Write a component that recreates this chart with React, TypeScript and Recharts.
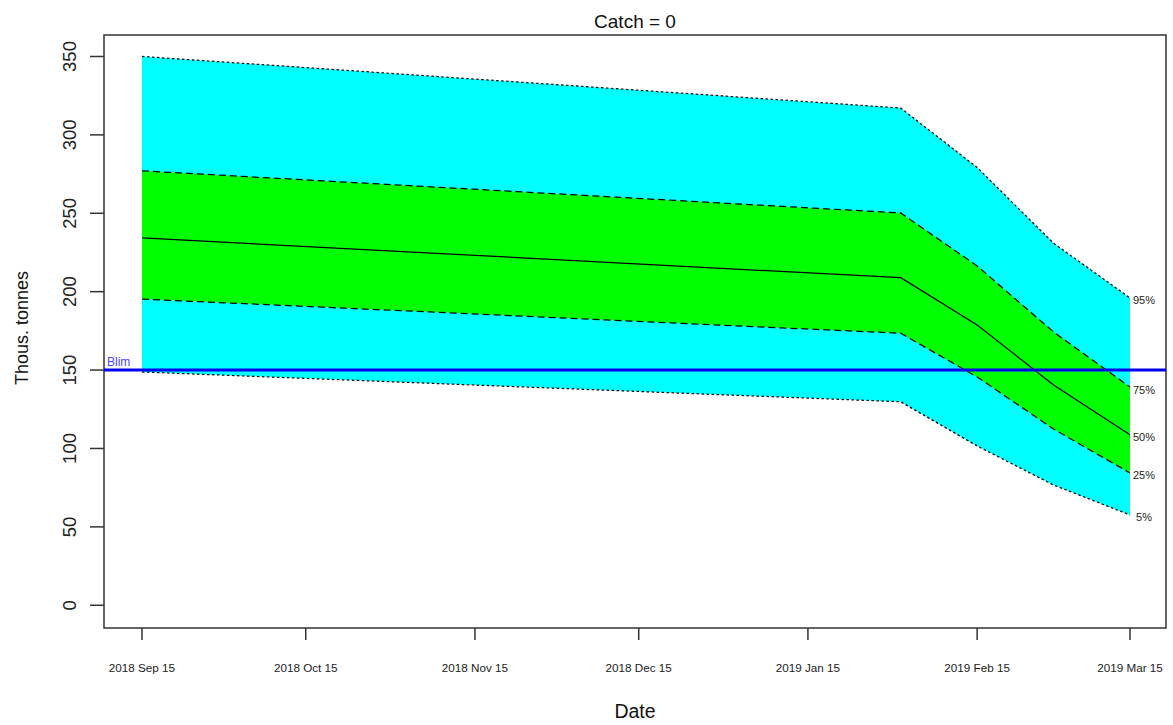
import React from "react";
import {
  ComposedChart,
  Area,
  Line,
  XAxis,
  YAxis,
  ReferenceLine,
  ReferenceArea,
  LabelList,
} from "recharts";

// Days since 2018 Sep 15 for each projection step
const dayOffsets = [0, 139, 153, 167, 181];

// Projected stock quantiles (thousand tonnes)
const q05 = [148.8, 129.8, 101.6, 76.7, 57.6];
const q25 = [195.3, 173.5, 145.6, 112.4, 84.4];
const q50 = [234.3, 208.9, 178.8, 140.5, 108.7];
const q75 = [277.1, 250.2, 216.4, 174.3, 139.2];
const q95 = [350.0, 317.1, 279.2, 230.9, 196.0];

// Date axis ticks
const tickDays = [0, 30, 61, 91, 122, 153, 181];
const tickLabels = [
  "2018 Sep 15",
  "2018 Oct 15",
  "2018 Nov 15",
  "2018 Dec 15",
  "2019 Jan 15",
  "2019 Feb 15",
  "2019 Mar 15",
];
const yTicks = [0, 50, 100, 150, 200, 250, 300, 350];

const blim = 150;
const title = "Catch = 0";

const rows = dayOffsets.map((day, i) => ({
  day,
  q05: q05[i],
  q25: q25[i],
  q50: q50[i],
  q75: q75[i],
  q95: q95[i],
}));

const FONT = "'Liberation Sans', Arial, sans-serif";
const INK = "#333";
const LINE_W = 1.25;
const lastIndex = rows.length - 1;

const XTick = (props: any) => {
  const { x, payload } = props;
  const idx = tickDays.indexOf(payload.value);
  return (
    <text
      x={x}
      y={667}
      textAnchor="middle"
      dominantBaseline="central"
      fontFamily={FONT}
      fontSize={11.7}
      fill="#222"
    >
      {idx >= 0 ? tickLabels[idx] : ""}
    </text>
  );
};

const YTick = (props: any) => {
  const { y, payload } = props;
  const cx = 69.5;
  return (
    <text
      x={cx}
      y={y}
      transform={`rotate(-90 ${cx} ${y})`}
      textAnchor="middle"
      dominantBaseline="central"
      fontFamily={FONT}
      fontSize={18.5}
      fill="#222"
    >
      {payload.value}
    </text>
  );
};

const endLabel = (text: string) => (props: any) => {
  const { x, y, index } = props;
  if (index !== lastIndex) return null;
  return (
    <text
      x={x + 14}
      y={y + 2.5}
      textAnchor="middle"
      dominantBaseline="central"
      fontFamily={FONT}
      fontSize={11}
      fill="#222"
    >
      {text}
    </text>
  );
};

export default function App() {
  return (
    <div
      style={{
        position: "absolute",
        left: 0,
        top: 0,
        width: 1173,
        height: 725,
        overflow: "hidden",
        background: "#fff",
      }}
    >
      <ComposedChart
        width={1173}
        height={725}
        data={rows}
        margin={{ top: 35, right: 7, bottom: 0, left: 0 }}
      >
        <XAxis
          type="number"
          dataKey="day"
          domain={[-6.96, 187.6]}
          allowDataOverflow
          ticks={tickDays}
          interval={0}
          height={97}
          axisLine={false}
          tickSize={12}
          tickLine={{ stroke: INK, strokeWidth: 1.5 }}
          tick={<XTick />}
          label={{
            content: () => (
              <text
                x={635}
                y={711}
                textAnchor="middle"
                dominantBaseline="central"
                fontFamily={FONT}
                fontSize={19.5}
                fill="#111"
              >
                Date
              </text>
            ),
          }}
        />
        <YAxis
          type="number"
          domain={[-14.5, 363.7]}
          allowDataOverflow
          ticks={yTicks}
          interval={0}
          width={104}
          axisLine={false}
          tickSize={14}
          tickLine={{ stroke: INK, strokeWidth: 1.5 }}
          tick={<YTick />}
          label={{
            content: () => (
              <text
                x={22}
                y={328}
                transform="rotate(-90 22 328)"
                textAnchor="middle"
                dominantBaseline="central"
                fontFamily={FONT}
                fontSize={18}
                fill="#111"
              >
                Thous. tonnes
              </text>
            ),
          }}
        />

        <Area
          type="linear"
          dataKey={(d: any) => [d.q05, d.q95]}
          fill="#00ffff"
          fillOpacity={1}
          stroke="none"
          isAnimationActive={false}
        />
        <Area
          type="linear"
          dataKey={(d: any) => [d.q25, d.q75]}
          fill="#00ff00"
          fillOpacity={1}
          stroke="none"
          isAnimationActive={false}
        />

        <Line
          type="linear"
          dataKey="q95"
          stroke="#000"
          strokeWidth={LINE_W}
          strokeDasharray="2.5 2.5"
          dot={false}
          isAnimationActive={false}
        >
          <LabelList dataKey="q95" content={endLabel("95%")} />
        </Line>
        <Line
          type="linear"
          dataKey="q75"
          stroke="#000"
          strokeWidth={LINE_W}
          strokeDasharray="7 4"
          dot={false}
          isAnimationActive={false}
        >
          <LabelList dataKey="q75" content={endLabel("75%")} />
        </Line>
        <Line
          type="linear"
          dataKey="q50"
          stroke="#000"
          strokeWidth={LINE_W}
          dot={false}
          isAnimationActive={false}
        >
          <LabelList dataKey="q50" content={endLabel("50%")} />
        </Line>
        <Line
          type="linear"
          dataKey="q25"
          stroke="#000"
          strokeWidth={LINE_W}
          strokeDasharray="7 4"
          dot={false}
          isAnimationActive={false}
        >
          <LabelList dataKey="q25" content={endLabel("25%")} />
        </Line>
        <Line
          type="linear"
          dataKey="q05"
          stroke="#000"
          strokeWidth={LINE_W}
          strokeDasharray="2.5 2.5"
          dot={false}
          isAnimationActive={false}
        >
          <LabelList dataKey="q05" content={endLabel("5%")} />
        </Line>

        <ReferenceLine
          y={blim}
          stroke="#0000ee"
          strokeWidth={3}
          label={{
            content: (p: any) => (
              <text
                x={(p.viewBox?.x ?? 104) + 3}
                y={(p.viewBox?.y ?? 369) - 8}
                dominantBaseline="central"
                fontFamily={FONT}
                fontSize={12}
                fill="#4646ff"
              >
                Blim
              </text>
            ),
          }}
        />

        {/* plot frame */}
        <ReferenceArea
          x1={-6.96}
          x2={187.6}
          y1={-14.5}
          y2={363.7}
          fill="none"
          fillOpacity={0}
          stroke={INK}
          strokeWidth={1.5}
          strokeOpacity={1}
        />

        <text
          x={635}
          y={21}
          textAnchor="middle"
          dominantBaseline="central"
          fontFamily={FONT}
          fontSize={19}
          fill="#111"
        >
          {title}
        </text>
      </ComposedChart>
    </div>
  );
}
